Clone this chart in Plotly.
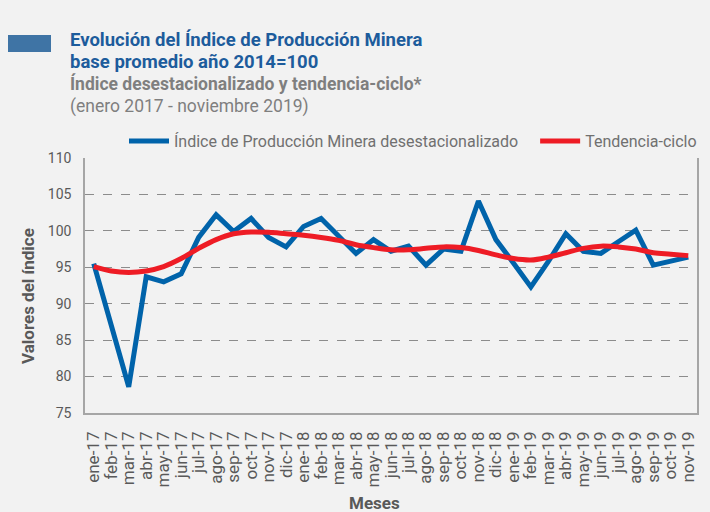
import plotly.graph_objects as go

meses = ["ene-17","feb-17","mar-17","abr-17","may-17","jun-17","jul-17","ago-17","sep-17","oct-17","nov-17","dic-17",
         "ene-18","feb-18","mar-18","abr-18","may-18","jun-18","jul-18","ago-18","sep-18","oct-18","nov-18","dic-18",
         "ene-19","feb-19","mar-19","abr-19","may-19","jun-19","jul-19","ago-19","sep-19","oct-19","nov-19"]

desestacionalizado = [95.5, 87.0, 78.6, 93.7, 93.0, 94.1, 99.1, 102.2, 99.9, 101.7, 99.1, 97.8,
                      100.6, 101.7, 99.4, 96.9, 98.8, 97.2, 97.9, 95.3, 97.5, 97.2, 104.1, 98.8,
                      95.6, 92.3, 95.8, 99.6, 97.2, 96.9, 98.5, 100.1, 95.3, 95.9, 96.4]

tendencia = [95.1, 94.5, 94.3, 94.5, 95.1, 96.2, 97.6, 98.8, 99.6, 99.85, 99.8, 99.6,
             99.4, 99.1, 98.7, 98.1, 97.7, 97.4, 97.4, 97.6, 97.8, 97.7, 97.3, 96.7,
             96.2, 96.0, 96.4, 97.0, 97.6, 97.9, 97.8, 97.5, 97.0, 96.8, 96.6]

y_ticks = [75, 80, 85, 90, 95, 100, 105, 110]

FONT = "Roboto"
BG = "#F2F2F2"
L, R, T, B = 85, 13, 158, 99
W, H = 710, 512
PW, PH = W - L - R, H - T - B

def px(x):
    return (x - L) / PW

def py(y):
    return (H - B - y) / PH

fig = go.Figure()
fig.add_trace(go.Scatter(x=meses, y=desestacionalizado, mode="lines",
                         name="Índice de Producción Minera desestacionalizado\u00a0\u00a0\u00a0",
                         line=dict(color="#0063AA", width=5)))
fig.add_trace(go.Scatter(x=meses, y=tendencia, mode="lines", name="Tendencia-ciclo",
                         line=dict(color="#EE1C25", width=5, shape="spline")))

fig.update_layout(
    width=W, height=H,
    margin=dict(l=L, r=R, t=T, b=B, autoexpand=False),
    paper_bgcolor=BG, plot_bgcolor=BG,
    font=dict(family=FONT, color="#595959", size=13),
    showlegend=True,
    legend=dict(orientation="h", x=px(124), y=py(141), xanchor="left", yanchor="middle",
                bgcolor="rgba(0,0,0,0)", font=dict(size=16, color="#707070"),
                itemwidth=40, tracegroupgap=0),
    xaxis=dict(type="category", tickmode="array", tickvals=meses, ticktext=meses,
               tickangle=-90, showgrid=False, showline=True, automargin=False,
               linecolor="#A6A6A6", linewidth=1.5, ticks="", ticklabelstandoff=10,
               tickfont=dict(size=17, color="#595959"),
               range=[-0.5, len(meses) - 0.5]),
    yaxis=dict(range=[75, 110], tickvals=y_ticks, showgrid=True, gridcolor="#8C8C8C",
               griddash="dash", gridwidth=1, showline=True, linecolor="#A6A6A6", linewidth=1.5,
               mirror=True, ticks="", zeroline=False, automargin=False, ticklabelstandoff=9,
               tickfont=dict(size=14, color="#595959")),
)

fig.add_shape(type="rect", xref="paper", yref="paper", x0=px(8), x1=px(51), y0=py(52), y1=py(35),
              fillcolor="#3F74A5", line=dict(width=0))

title_html = (
    '<span style="font-size:18.5px;color:#1D5C9C"><b>Evolución del Índice de Producción Minera</b></span><br>'
    '<span style="font-size:18.5px;color:#1D5C9C"><b>base promedio año 2014=100</b></span><br>'
    '<span style="font-size:17.5px;color:#7F7F7F"><b>Índice desestacionalizado y tendencia-ciclo*</b></span><br>'
    '<span style="font-size:17.5px;color:#7F7F7F">(enero 2017 - noviembre 2019)</span>'
)
fig.add_annotation(xref="paper", yref="paper", x=px(68), y=py(73), xanchor="left", yanchor="middle",
                   align="left", text=title_html, showarrow=False,
                   font=dict(size=16.8, color="#7F7F7F", family=FONT))

fig.add_annotation(xref="paper", yref="paper", x=px(28), y=py(296), xanchor="center", yanchor="middle",
                   text="<b>Valores del índice</b>", showarrow=False, textangle=-90,
                   font=dict(size=17, color="#595959", family=FONT))
fig.add_annotation(xref="paper", yref="paper", x=px(374), y=py(503), xanchor="center", yanchor="middle",
                   text="<b>Meses</b>", showarrow=False,
                   font=dict(size=17, color="#595959", family=FONT))

fig.write_html("out.html", config={"displayModeBar": False},
               post_script="document.body.style.margin='0';")
